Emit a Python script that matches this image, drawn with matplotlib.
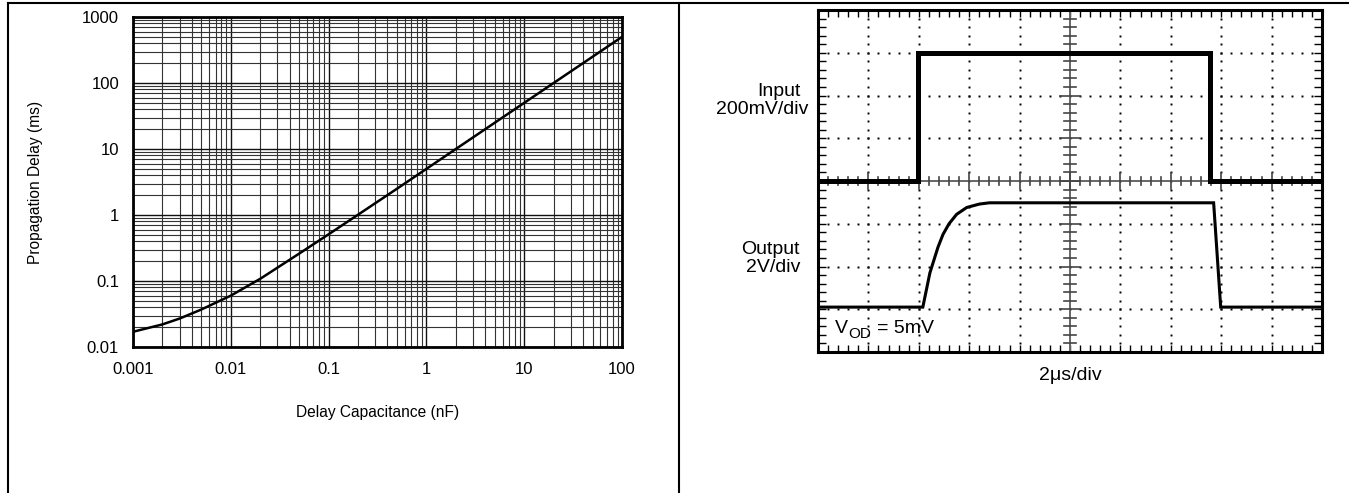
import numpy as np
import matplotlib
matplotlib.use("Agg")
import matplotlib.pyplot as plt
from matplotlib.lines import Line2D
from matplotlib.ticker import LogLocator, FixedLocator, NullFormatter, MultipleLocator

plt.rcParams['font.family'] = ['Liberation Sans', 'DejaVu Sans']

# ---- Left chart data ----
cap_nF = [0.001, 0.002, 0.003, 0.005, 0.01, 0.02, 0.05, 0.1, 0.2, 0.5, 1, 2, 5, 10, 20, 50, 100]
delay_ms = [0.017, 0.022, 0.027, 0.037, 0.060, 0.108, 0.26, 0.51, 1.01, 2.5, 5.0, 10, 25, 50, 100, 250, 500]
x_ticks = [0.001, 0.01, 0.1, 1, 10, 100]
x_tick_labels = ['0.001', '0.01', '0.1', '1', '10', '100']
y_ticks = [0.01, 0.1, 1, 10, 100, 1000]
y_tick_labels = ['0.01', '0.1', '1', '10', '100', '1000']

# ---- Right (scope) data, in divisions ----
input_t = [0, 1.98, 1.98, 7.78, 7.78, 10]
input_v = [4.0, 4.0, 7.0, 7.0, 4.0, 4.0]
output_t = [0, 2.08, 2.15, 2.22, 2.30, 2.38, 2.48, 2.60, 2.75, 2.95, 3.20, 3.40, 7.85, 7.99, 10]
output_v = [1.05, 1.05, 1.45, 1.85, 2.15, 2.45, 2.75, 3.00, 3.22, 3.38, 3.46, 3.49, 3.49, 1.05, 1.05]

W, H = 1349, 493
fig = plt.figure(figsize=(W / 100, H / 100), dpi=100)

def fx(px):
    return px / W

def fy(py):
    return 1 - py / H

# Figure borders
fig.add_artist(Line2D([fx(8), fx(W)], [fy(3), fy(3)], transform=fig.transFigure, color='black', lw=1.5))
fig.add_artist(Line2D([fx(8), fx(8)], [fy(3), fy(H)], transform=fig.transFigure, color='black', lw=1.5))
fig.add_artist(Line2D([fx(679), fx(679)], [fy(3), fy(H)], transform=fig.transFigure, color='black', lw=1.5))

# ---- Left chart ----
ax = fig.add_axes([fx(133), fy(347), fx(622) - fx(133), (347 - 17) / H])
ax.plot(cap_nF, delay_ms, color='black', lw=1.8, zorder=5)
ax.set_xscale('log')
ax.set_yscale('log')
ax.set_xlim(0.001, 100)
ax.set_ylim(0.01, 1000)
ax.xaxis.set_major_locator(FixedLocator(x_ticks))
ax.set_xticklabels(x_tick_labels)
ax.yaxis.set_major_locator(FixedLocator(y_ticks))
ax.set_yticklabels(y_tick_labels)
ax.xaxis.set_minor_locator(LogLocator(base=10, subs=np.arange(2, 10), numticks=20))
ax.yaxis.set_minor_locator(LogLocator(base=10, subs=np.arange(2, 10), numticks=20))
ax.xaxis.set_minor_formatter(NullFormatter())
ax.yaxis.set_minor_formatter(NullFormatter())
ax.grid(which='major', color='#111111', lw=1.0)
ax.grid(which='minor', color='#333333', lw=0.8)
ax.tick_params(which='both', length=0, labelsize=12)
ax.tick_params(axis='x', pad=11)
ax.tick_params(axis='y', pad=10)
for s in ax.spines.values():
    s.set_linewidth(2.0)
ax.set_xlabel('Delay Capacitance (nF)', fontsize=11.2, labelpad=20)
ax.set_ylabel('Propagation Delay (ms)', fontsize=11.2, labelpad=28)

# ---- Right scope ----
sx = fig.add_axes([fx(818), fy(352), fx(1322) - fx(818), (352 - 10) / H])
sx.set_xlim(0, 10)
sx.set_ylim(0, 8)
for s in sx.spines.values():
    s.set_linewidth(2.2)
sx.xaxis.set_major_locator(MultipleLocator(1))
sx.xaxis.set_minor_locator(MultipleLocator(0.2))
sx.yaxis.set_major_locator(MultipleLocator(1))
sx.yaxis.set_minor_locator(MultipleLocator(0.2))
sx.tick_params(which='both', direction='in', top=True, right=True, bottom=True, left=True,
               labelbottom=False, labelleft=False, length=5, width=1.0)
sx.tick_params(axis='y', which='both', length=6)

# dotted graticule
dot_x_minor = np.arange(0, 10.001, 0.2)
dot_y_minor = np.arange(0, 8.001, 0.2)
for gy in range(1, 8):
    if gy == 4:
        continue
    sx.plot(dot_x_minor, np.full_like(dot_x_minor, gy), ls='none', marker='s', ms=1.4, color='black', mew=0)
for gx in range(1, 10):
    if gx == 5:
        continue
    sx.plot(np.full_like(dot_y_minor, gx), dot_y_minor, ls='none', marker='s', ms=1.4, color='black', mew=0)

# centre crosshair
sx.axhline(4, color='#666666', lw=1.4)
sx.axvline(5, color='#666666', lw=1.4)
for t in dot_x_minor:
    h = 0.18 if abs(t - round(t)) < 1e-6 else 0.1
    sx.plot([t, t], [4 - h, 4 + h], color='#444444', lw=1.2)
for t in dot_y_minor:
    w = 0.2 if abs(t - round(t)) < 1e-6 else 0.12
    sx.plot([5 - w, 5 + w], [t, t], color='#444444', lw=1.2)

# traces
sx.plot(input_t, input_v, color='black', lw=3.6, solid_joinstyle='miter', zorder=6)
sx.plot(output_t, output_v, color='black', lw=2.2, solid_joinstyle='miter', zorder=6)

# V_OD label (V with OD subscript)
fig.text(fx(835), fy(333), 'V', fontsize=14, va='baseline', ha='left')
fig.text(fx(848), fy(338), 'OD', fontsize=11, va='baseline', ha='left')
fig.text(fx(877), fy(333), '= 5mV', fontsize=14, va='baseline', ha='left')

# panel labels
fig.text(fx(801), fy(91), 'Input', fontsize=14, ha='right', va='center')
fig.text(fx(808), fy(109), '200mV/div', fontsize=14, ha='right', va='center')
fig.text(fx(800), fy(249), 'Output', fontsize=14, ha='right', va='center')
fig.text(fx(800), fy(268), '2V/div', fontsize=14, ha='right', va='center')
fig.text(fx(1070), fy(375), '2μs/div', fontsize=14, ha='center', va='center')

fig.savefig('out.png', dpi=100)
